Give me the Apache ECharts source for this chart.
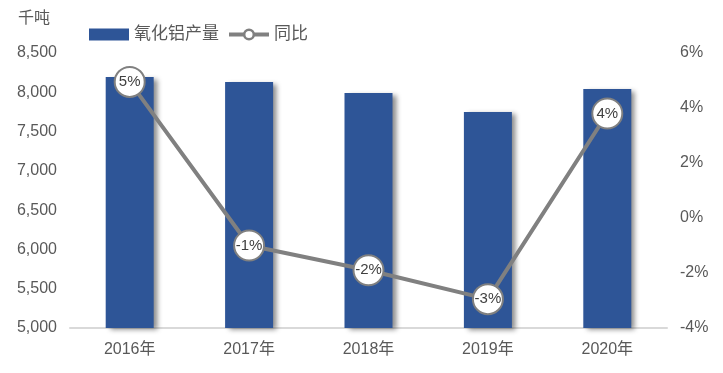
<!DOCTYPE html>
<html><head><meta charset="utf-8">
<script src="https://cdn.jsdelivr.net/npm/echarts@6/dist/echarts.min.js"></script>
<style>html,body{margin:0;padding:0;background:#fff}#c{width:723px;height:373px}</style>
</head><body><div id="c"></div>
<script>
const categories = ['2016年','2017年','2018年','2019年','2020年'];
const output = [8195, 8131, 7991, 7749, 8042];
const yoy = [4.95, -1.0, -1.9, -2.95, 3.8];
const FONT = "'Liberation Sans','Noto Sans CJK SC',sans-serif";
const chart = echarts.init(document.getElementById('c'));
chart.setOption({
  animation:false,
  textStyle:{fontFamily:FONT},
  grid:{left:70,right:56,top:53,bottom:45},
  title:{text:'千吨',left:13,top:6,textStyle:{fontSize:16,fontWeight:'normal',color:'#595959',fontFamily:FONT}},
  legend:{left:84,top:21,itemGap:8,itemWidth:40,itemHeight:12,
    textStyle:{fontSize:17,color:'#595959',fontFamily:FONT},
    data:[{name:'氧化铝产量',icon:'rect'},
          {name:'同比',lineStyle:{width:4,color:'#808080'},itemStyle:{color:'#fff',borderColor:'#808080',borderWidth:2.5}}]},
  xAxis:{type:'category',data:categories,
    axisLine:{onZero:false,lineStyle:{color:'#d9d9d9',width:2}},axisTick:{show:false},
    axisLabel:{fontSize:16,color:'#595959',margin:14}},
  yAxis:[
    {type:'value',min:5000,max:8500,interval:500,splitLine:{show:false},
     axisLabel:{fontSize:16,color:'#595959',margin:13,formatter:v=>v.toLocaleString('en-US')}},
    {type:'value',min:-4,max:6,interval:2,splitLine:{show:false},
     axisLabel:{fontSize:16,color:'#595959',margin:13,formatter:v=>v+'%'}}
  ],
  series:[
    {name:'氧化铝产量',type:'bar',data:output,barWidth:48,
     itemStyle:{color:'#2e5597',shadowColor:'rgba(0,0,0,0.45)',shadowBlur:5,shadowOffsetX:4,shadowOffsetY:2}},
    {name:'同比',type:'line',yAxisIndex:1,data:yoy,symbol:'circle',symbolSize:30,
     lineStyle:{color:'#808080',width:4},
     itemStyle:{color:'#fff',borderColor:'#808080',borderWidth:2},
     label:{show:true,position:'inside',fontSize:15,color:'#404040',formatter:p=>Math.round(p.value)+'%'}}
  ]
});
</script></body></html>
